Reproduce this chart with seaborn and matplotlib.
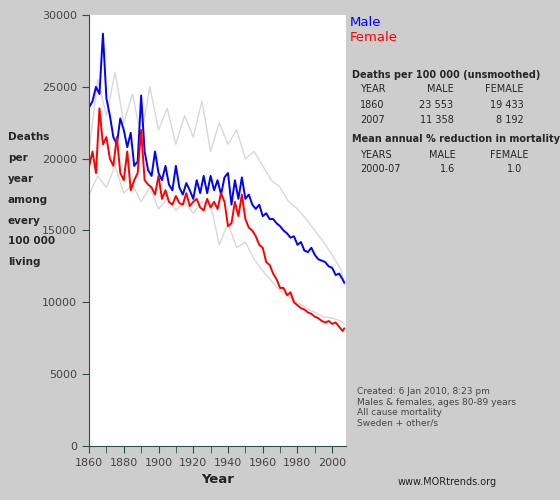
import matplotlib
matplotlib.use("Agg")
import matplotlib.pyplot as plt
import seaborn as sns
import pandas as pd

# yearly deaths per 100 000, ages 80-89 (every 2 years)
years = list(range(1860, 2007, 2)) + [2007]
male = [23553, 24000, 25000, 24500, 28700, 24200, 23000, 21500, 21000, 22800,
        22000, 20800, 21800, 19500, 19800, 24400, 20500, 19200, 18800, 20500,
        19000, 18500, 19500, 18200, 17800, 19500, 18000, 17500, 18300, 17800,
        17200, 18500, 17600, 18800, 17600, 18800, 17800, 18500, 17500, 18700,
        19000, 16800, 18500, 17200, 18700, 17200, 17500, 16800, 16500, 16800,
        16000, 16200, 15800, 15800, 15500, 15300, 15000, 14800, 14500, 14600,
        14000, 14200, 13600, 13500, 13800, 13300, 13000, 12900, 12800, 12500,
        12400, 11900, 12000, 11600, 11358]
female = [19433, 20500, 19000, 23500, 21000, 21500, 20000, 19500, 21500, 19000,
          18500, 20500, 17800, 18500, 19000, 22000, 18500, 18200, 18000, 17500,
          18800, 17200, 17800, 17000, 16800, 17400, 16900, 16800, 17600, 16700,
          17000, 17200, 16600, 16400, 17200, 16600, 17000, 16500, 17600, 17000,
          15300, 15500, 17000, 16000, 17500, 15800, 15200, 15000, 14600, 14000,
          13800, 12800, 12600, 12000, 11600, 11000, 11000, 10500, 10700, 10000,
          9800, 9600, 9500, 9300, 9200, 9000, 8900, 8700, 8600, 8700,
          8500, 8600, 8300, 8000, 8192]

# comparison series (grey), every 5 years
grey_years = list(range(1860, 2006, 5)) + [2007]
grey_upper = [20500, 25500, 23000, 26000, 22500, 24500, 21500, 25000, 22000, 23500,
              21000, 23000, 21500, 24000, 20500, 22500, 21000, 22000, 20000, 20500,
              19500, 18500, 18000, 17000, 16500, 15800, 15000, 14200, 13300, 12300, 11200]
grey_lower = [17500, 18800, 18000, 19500, 17600, 18200, 17000, 18000, 16500, 17200,
              16400, 17000, 16200, 17000, 16800, 14000, 15500, 13800, 14200, 13000,
              12200, 11500, 10800, 10400, 10000, 9600, 9300, 9000, 8900, 8700, 8500]

df = pd.DataFrame({"Year": years, "Male": male, "Female": female})
grey = pd.DataFrame({"Year": grey_years, "Upper": grey_upper, "Lower": grey_lower})

sns.set_style("white")
bg = "#cdcdcd"
axis_col = "#2f4f4f"
fig = plt.figure(figsize=(5.6, 5.0), dpi=100, facecolor=bg)
ax = fig.add_axes([0.159, 0.108, 0.459, 0.862])
ax.set_facecolor("white")

sns.lineplot(data=grey, x="Year", y="Upper", ax=ax, color="#d8d8d8", lw=1.0)
sns.lineplot(data=grey, x="Year", y="Lower", ax=ax, color="#d8d8d8", lw=1.0)
sns.lineplot(data=df, x="Year", y="Male", ax=ax, color="#0000ff", lw=1.4)
sns.lineplot(data=df, x="Year", y="Female", ax=ax, color="#ff0000", lw=1.4)

ax.set_xlim(1860, 2008)
ax.set_ylim(0, 30000)
ax.set_xticks(range(1860, 2001, 20))
ax.set_xticks(range(1870, 2008, 20), minor=True)
ax.set_yticks(range(0, 30001, 5000))
for s in ["top", "right"]:
    ax.spines[s].set_visible(False)
for s in ["left", "bottom"]:
    ax.spines[s].set_color(axis_col)
ax.tick_params(which="both", direction="out", length=5, color=axis_col,
               labelsize=8, labelcolor="#444444", bottom=True, left=True)
ax.set_xlabel("Year", fontsize=9.5, fontweight="bold", color="#222222")
ax.set_ylabel("")

fig.text(0.014, 0.735, "Deaths\n\nper\n\nyear\n\namong\n\nevery\n\n100 000\n\nliving",
         fontsize=7.5, fontweight="bold", va="top", linespacing=1.05)

fig.text(0.625, 0.948, "Male", color="#0000ff", fontsize=9.5)
fig.text(0.625, 0.918, "Female", color="#ff0000", fontsize=9.5)
fig.text(0.628, 0.845, "Deaths per 100 000 (unsmoothed)", fontsize=7, fontweight="bold")
rows = [("YEAR", "MALE", "FEMALE"), ("1860", "23 553", "19 433"), ("2007", "11 358", "8 192")]
for i, (a, b, c) in enumerate(rows):
    y = 0.815 - i * 0.03
    fig.text(0.643, y, a, fontsize=7)
    fig.text(0.81, y, b, fontsize=7, ha="right")
    fig.text(0.935, y, c, fontsize=7, ha="right")
fig.text(0.628, 0.715, "Mean annual % reduction in mortality", fontsize=7, fontweight="bold")
fig.text(0.643, 0.685, "YEARS", fontsize=7)
fig.text(0.766, 0.685, "MALE", fontsize=7)
fig.text(0.875, 0.685, "FEMALE", fontsize=7)
fig.text(0.643, 0.655, "2000-07", fontsize=7)
fig.text(0.785, 0.655, "1.6", fontsize=7)
fig.text(0.905, 0.655, "1.0", fontsize=7)

fig.text(0.637, 0.225, "Created: 6 Jan 2010, 8:23 pm\nMales & females, ages 80-89 years\n"
         "All cause mortality\nSweden + other/s", fontsize=6.5, color="#444444",
         va="top", linespacing=1.2)
fig.text(0.71, 0.03, "www.MORtrends.org", fontsize=7, color="#222222")

fig.savefig("out.png", dpi=100, facecolor=bg)
